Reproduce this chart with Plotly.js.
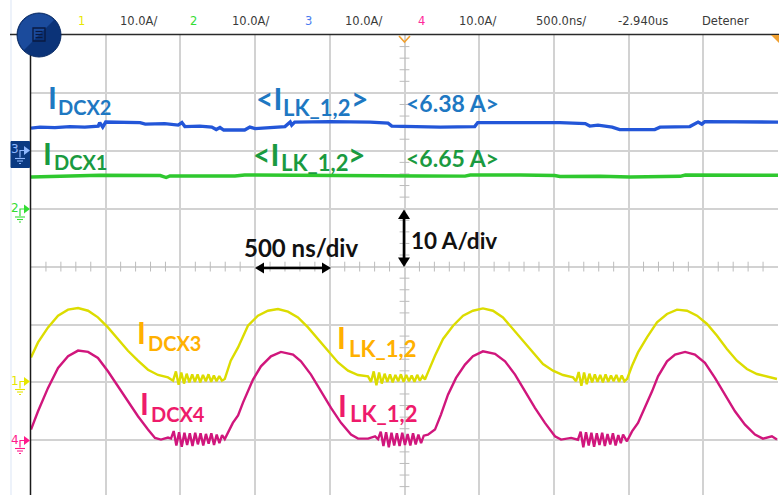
<!DOCTYPE html>
<html><head><meta charset="utf-8">
<script src="https://cdn.plot.ly/plotly-3.0.1.min.js"></script>
<style>html,body{margin:0;padding:0;background:#fff;overflow:hidden}#chart{width:779px;height:495px}</style>
</head><body><div id="chart"></div>
<script>
// Time in ns (500 ns/div), current in A (10 A/div), each relative to its channel ground.
// Channel 3 (blue) - I_DCX2
const ch3Time = [-2500,-2440,-2340,-2240,-2140,-2050,-2040,-2020,-2000,-1905,-1770,-1735,-1605,-1515,-1490,-1470,-1370,-1290,-1260,-1235,-1210,-1070,-1035,-1000,-800,-765,-755,-735,-500,-230,-110,-85,105,240,470,490,775,1040,1210,1240,1295,1390,1440,1575,1675,1710,1910,1965,1990,2010,2315,2380,2445,2500];
const ch3Amps = [3.92,4.09,4.01,4.18,4.09,4.27,4.87,4.09,4.96,4.96,4.87,4.61,4.70,4.44,4.87,4.18,4.27,4.09,3.66,4.01,3.58,3.58,4.09,3.83,4.18,4.96,4.44,4.96,5.04,4.96,4.78,4.27,4.18,4.09,4.18,4.87,4.87,4.87,4.70,4.27,4.44,4.09,3.66,3.58,3.66,4.09,4.18,4.96,4.61,5.04,5.04,4.96,5.04,4.96];
// Channel 2 (green) - I_DCX1
const ch2Time = [-2500,-2305,-2240,-2040,-1635,-1595,-1570,-1370,-1135,-1070,-700,-300,-85,105,405,440,775,1005,1040,1310,1510,1845,1880,2180,2500];
const ch2Amps = [5.47,5.56,5.73,5.77,5.73,5.39,5.65,5.60,5.65,5.82,5.73,5.73,5.56,5.65,5.63,5.82,5.82,5.73,5.56,5.60,5.47,5.60,5.82,5.82,5.77];
// Channel 1 (yellow) - I_DCX3
const ch1Time = [-2500,-2453,-2386,-2319,-2252,-2185,-2118,-2052,-1985,-1918,-1851,-1784,-1717,-1650,-1583,
 -1549,-1530,-1512,-1494,-1476,-1458,-1440,-1421,-1403,-1385,-1367,-1349,-1330,-1312,-1294,-1276,-1258,-1240,-1222,
 -1203,-1163,-1114,-1048,-981,-914,-847,-780,-713,-646,-579,-512,-445,-378,-311,-244,
 -224,-206,-188,-170,-152,-133,-115,-97,-79,-61,-42,-24,-6,12,30,48,67,85,103,121,137,
 157,204,258,325,392,458,525,592,659,726,793,860,927,994,1061,1128,
 1148,1166,1184,1202,1220,1238,1256,1274,1292,1310,1328,1346,1364,1382,1400,1418,1436,1454,1472,1490,
 1523,1563,1623,1690,1757,1824,1891,1958,2025,2092,2158,2225,2292,2359,2426,2493];
const ch1Amps = [4.32,6.91,9.50,11.52,12.56,12.85,12.38,11.23,9.50,7.50,5.47,3.75,2.19,1.28,0.86,
 0.3,1.9,-0.4,1.7,-0.2,1.5,0.0,1.4,0.1,1.4,0.0,1.3,0.2,1.4,0.1,1.2,0.2,1.1,0.3,
 0.6,3.75,6.04,9.79,11.52,12.38,12.68,12.21,11.23,9.50,7.50,5.47,3.45,2.02,1.28,1.04,
 0.1,1.9,-0.5,1.7,-0.2,1.5,0.1,1.4,0.0,1.3,0.2,1.4,0.1,1.3,0.2,1.2,0.1,1.3,0.3,1.1,0.5,
 1.73,4.61,7.50,9.79,11.52,12.38,12.78,12.38,11.23,9.22,7.20,5.18,3.18,2.02,1.28,0.86,
 0.2,1.8,-0.6,1.7,-0.3,1.5,0.0,1.4,0.1,1.3,0.0,1.4,0.1,1.2,0.2,1.3,0.1,1.2,0.2,0.6,
 2.88,5.18,7.77,10.36,11.81,12.56,12.38,11.52,10.09,8.07,5.77,3.75,2.31,1.45,1.04,0.59];
// Channel 4 (pink) - I_DCX4
const ch4Time = [-2500,-2453,-2386,-2319,-2252,-2185,-2118,-2052,-1985,-1918,-1851,-1784,-1717,-1670,-1630,-1583,
 -1563,-1545,-1527,-1509,-1491,-1473,-1455,-1437,-1419,-1401,-1383,-1365,-1347,-1329,-1311,-1293,-1275,-1257,-1239,-1221,-1203,
 -1183,-1149,-1114,-1081,-1014,-961,-894,-827,-746,-693,-626,-559,-492,-425,-358,-311,-244,-197,
 -177,-159,-141,-123,-105,-87,-69,-51,-33,-15,3,21,39,57,75,93,111,129,
 157,204,244,291,345,405,458,525,606,673,740,807,873,940,1007,1048,1115,
 1161,1179,1197,1215,1233,1251,1269,1287,1305,1323,1341,1359,1377,1395,1413,1431,1448,1463,1489,
 1523,1563,1610,1657,1697,1757,1811,1878,1944,2011,2078,2145,2212,2279,2346,2399,2459,2493];
const ch4Amps = [1.85,5.01,9.05,12.50,14.51,15.49,15.27,14.23,11.92,9.33,6.74,4.15,1.85,0.41,0.12,0.47,
 0.3,1.6,-0.9,1.4,-1.1,1.3,-0.8,1.2,-1.0,1.3,-0.7,1.2,-0.9,1.1,-0.6,1.2,-0.8,1.0,-0.5,0.9,0.2,
 1.2,3.0,4.3,6.51,10.48,12.78,14.51,15.27,14.80,13.64,11.35,8.46,5.60,3.01,0.98,0.29,0.29,0.69,
 0.2,1.5,-1.0,1.4,-1.2,1.3,-0.9,1.2,-1.0,1.3,-0.8,1.1,-0.9,1.2,-0.7,1.0,-0.5,0.8,
 0.98,1.85,4.44,7.89,10.78,13.08,14.51,15.37,14.92,13.64,11.35,8.46,5.60,3.01,0.69,0.12,0.41,
 0.1,1.5,-1.2,1.4,-0.9,1.3,-1.1,1.2,-0.8,1.3,-1.0,1.1,-0.7,1.2,-0.9,0.9,-0.5,1.0,-0.17,
 1.55,3.0,5.60,8.46,11.05,13.64,14.80,15.27,14.80,13.37,10.78,7.89,5.01,2.71,0.98,0.29,0.69,0.12];

// Header (scope status bar)
const headerTexts = ['1','10.0A/','2','10.0A/','3','10.0A/','4','10.0A/','500.0ns/','-2.940us','Detener'];

// ---------- layout helpers (pixel -> paper) ----------
const W=779,H=495,ML=31,MR=1,MT=35,MB=0;
const PW=W-ML-MR, PH=H-MT-MB;
const X=px=>(px-ML)/PW, Y=py=>(H-MB-py)/PH;
const path=(pts,close)=>'M'+pts.map(p=>X(p[0]).toFixed(5)+','+Y(p[1]).toFixed(5)).join(' L')+(close?' Z':'');

// channel ground offsets (A on screen), 10 A/div
const offs={ch1:-20,ch2:10,ch3:20,ch4:-30};
const shift=(arr,o)=>arr.map(v=>v+o);

const traces=[
 {x:ch3Time,y:shift(ch3Amps,offs.ch3),mode:'lines',line:{color:'#2356d8',width:3.4},hoverinfo:'skip'},
 {x:ch2Time,y:shift(ch2Amps,offs.ch2),mode:'lines',line:{color:'#2fc82f',width:3.4},hoverinfo:'skip'},
 {x:ch1Time,y:shift(ch1Amps,offs.ch1),mode:'lines',line:{color:'#dcdc00',width:2.4},hoverinfo:'skip'},
 {x:ch4Time,y:shift(ch4Amps,offs.ch4),mode:'lines',line:{color:'#d0167c',width:2.4},hoverinfo:'skip'}
];
// minor tick marks on the centre cross-hair
const mty=[],mtx=[];
for(let v=-38;v<=40;v+=2){ if(v%10!==0) mty.push(v); }
for(let v=-2400;v<=2400;v+=100){ if(v%500!==0) mtx.push(v); }
traces.unshift(
 {x:mty.map(()=>0),y:mty,mode:'markers',marker:{symbol:'line-ew',size:7,line:{color:'#bcbcbc',width:1}},hoverinfo:'skip'},
 {x:mtx,y:mtx.map(()=>0),mode:'markers',marker:{symbol:'line-ns',size:7,line:{color:'#bcbcbc',width:1}},hoverinfo:'skip'}
);

const shapes=[];
const ann=[];
const S=(o)=>shapes.push(Object.assign({xref:'paper',yref:'paper'},o));
// faint side-panel line
S({type:'line',x0:X(11),x1:X(11),y0:Y(0),y1:Y(495),line:{color:'#dbe5f5',width:1}});
// plot border: top and left
S({type:'line',x0:X(10),x1:X(779),y0:Y(34.5),y1:Y(34.5),line:{color:'#2a2a2a',width:1.3}});
S({type:'line',x0:X(30.5),x1:X(30.5),y0:Y(34.5),y1:Y(495),line:{color:'#1a1a1a',width:1.5}});
// trigger markers
S({type:'path',path:path([[399,36],[404.5,42],[410,36]]),line:{color:'#f0a030',width:1.6}});
S({type:'path',path:path([[771,35],[779,35],[779,43]],true),fillcolor:'#f0a030',line:{width:0}});

// menu button circle
const cx=39,cy=35,r=22;
S({type:'circle',x0:X(cx-r),x1:X(cx+r),y0:Y(cy+r),y1:Y(cy-r),fillcolor:'#0b3378',line:{color:'#0a2c66',width:1}});
const arc=[];
for(let a=135;a<=315;a+=9){const t=a*Math.PI/180;arc.push([cx+(r-0.8)*Math.cos(t),cy+(r-0.8)*Math.sin(t)]);}
S({type:'path',path:path(arc,true),fillcolor:'#1b4b9c',line:{width:0}});
S({type:'path',path:path([[33,28],[45,28],[45,41],[33,41]],true),line:{color:'#0a1a40',width:1.3}});
[31.5,34.5,37.5].forEach(yy=>S({type:'line',x0:X(35.5),x1:X(42.5),y0:Y(yy),y1:Y(yy),line:{color:'#0a1a40',width:1.2}}));

// ground markers on the left
function groundMarker(label,color,gy,boxed){
  const c=boxed?'#8fb8ff':color;
  if(boxed) S({type:'rect',x0:X(11),x1:X(29.5),y0:Y(gy+17),y1:Y(gy-9),fillcolor:'#0b3a82',line:{color:'#0b3a82',width:1}});
  S({type:'path',path:path([[20,gy+7],[20,gy],[24,gy]]),line:{color:c,width:1.2}});
  S({type:'path',path:path([[24,gy-4.5],[30,gy],[24,gy+4.5]],true),fillcolor:c,line:{width:0}});
  S({type:'line',x0:X(15),x1:X(25),y0:Y(gy+8),y1:Y(gy+8),line:{color:c,width:1.1}});
  S({type:'line',x0:X(17),x1:X(23),y0:Y(gy+10.5),y1:Y(gy+10.5),line:{color:c,width:1.1}});
  S({type:'line',x0:X(19),x1:X(21),y0:Y(gy+13),y1:Y(gy+13),line:{color:c,width:1.1}});
  ann.push({xref:'paper',yref:'paper',x:X(15),y:Y(gy-1),text:label,showarrow:false,xanchor:'center',yanchor:'middle',font:{family:'DejaVu Sans',size:12,color:c}});
}
groundMarker('3','#2356d8',150.5,true);
groundMarker('2','#33dd33',209);
groundMarker('1','#e6e600',381.5);
groundMarker('4','#ff1a8c',440.5);

// header texts
const hx=[81,138,193,250,308,363,421,477,561,643,725];
const hc=['#e8e800','#3a3a3a','#33dd33','#3a3a3a','#4a7cf0','#3a3a3a','#ff2a9a','#3a3a3a','#3a3a3a','#3a3a3a','#3a3a3a'];
headerTexts.forEach((t,i)=>ann.push({xref:'paper',yref:'paper',x:X(hx[i]),y:Y(21),text:t,showarrow:false,xanchor:'center',yanchor:'middle',font:{family:'DejaVu Sans',size:11.5,color:hc[i]}}));

// in-plot labels (main letters and subscripts as separate texts; px = left, py = cap centre)
const LF='Lato';
function lab(text,px,py,color,size){
  ann.push({xref:'paper',yref:'paper',x:X(px-3),y:Y(py),text:'<b>'+text+'</b>',showarrow:false,xanchor:'left',yanchor:'middle',borderpad:0,font:{family:LF,size:size,color:color}});
}
const cBlue='#1e78c2',cGreen='#1a9a40',cOrange='#ffb000',cPink='#ee1b6b';
const MS=30, SS=20, LS=22;
// blue
lab('I',50,97,cBlue,MS); lab('DCX2',60,106.5,cBlue,SS);
lab('&lt;I',258,98,cBlue,MS); lab('LK_1,2',285,107,cBlue,LS); lab('&gt;',353,98,cBlue,MS);
lab('&lt;6.38 A&gt;',408,103,cBlue,23);
// green
lab('I',45,153,cGreen,MS); lab('DCX1',56,161.5,cGreen,SS);
lab('&lt;I',255,154,cGreen,MS); lab('LK_1,2',283,162,cGreen,LS); lab('&gt;',350,154,cGreen,MS);
lab('&lt;6.65 A&gt;',408,158,cGreen,23);
// orange
lab('I',139,332,cOrange,MS); lab('DCX3',150,343,cOrange,SS);
lab('I',339,337,cOrange,MS); lab('LK_1,2',351,348,cOrange,LS);
// pink
lab('I',142,403,cPink,MS); lab('DCX4',153,414,cPink,SS);
lab('I',340,405,cPink,MS); lab('LK_1,2',352,413,cPink,LS);
// scale notes
lab('500 ns/div',246,247,'#111111',24);
lab('10 A/div',413,240,'#111111',22.5);

// scale arrows (shapes)
S({type:'line',x0:X(262),x1:X(325),y0:Y(268),y1:Y(268),line:{color:'#000',width:2.6}});
S({type:'path',path:path([[255,268],[264,262.5],[264,273.5]],true),fillcolor:'#000',line:{width:0}});
S({type:'path',path:path([[331,268],[322,262.5],[322,273.5]],true),fillcolor:'#000',line:{width:0}});
S({type:'line',x0:X(404),x1:X(404),y0:Y(216),y1:Y(261),line:{color:'#000',width:2.6}});
S({type:'path',path:path([[404,209.5],[398,219],[410,219]],true),fillcolor:'#000',line:{width:0}});
S({type:'path',path:path([[404,267],[398,257.5],[410,257.5]],true),fillcolor:'#000',line:{width:0}});

const layout={
  width:W,height:H,margin:{l:ML,r:MR,t:MT,b:MB,pad:0},
  paper_bgcolor:'#ffffff',plot_bgcolor:'#ffffff',showlegend:false,
  xaxis:{range:[-2500,2500],dtick:500,tick0:0,showgrid:true,gridcolor:'#d2d2d2',gridwidth:1.6,zeroline:false,showticklabels:false,ticks:'',showline:false,fixedrange:true},
  yaxis:{range:[40-PH/5.79,40],dtick:10,tick0:0,showgrid:true,gridcolor:'#d2d2d2',gridwidth:1.6,zeroline:false,showticklabels:false,ticks:'',showline:false,fixedrange:true},
  shapes:shapes,annotations:ann
};
Plotly.newPlot('chart',traces,layout,{displayModeBar:false});
</script></body></html>
